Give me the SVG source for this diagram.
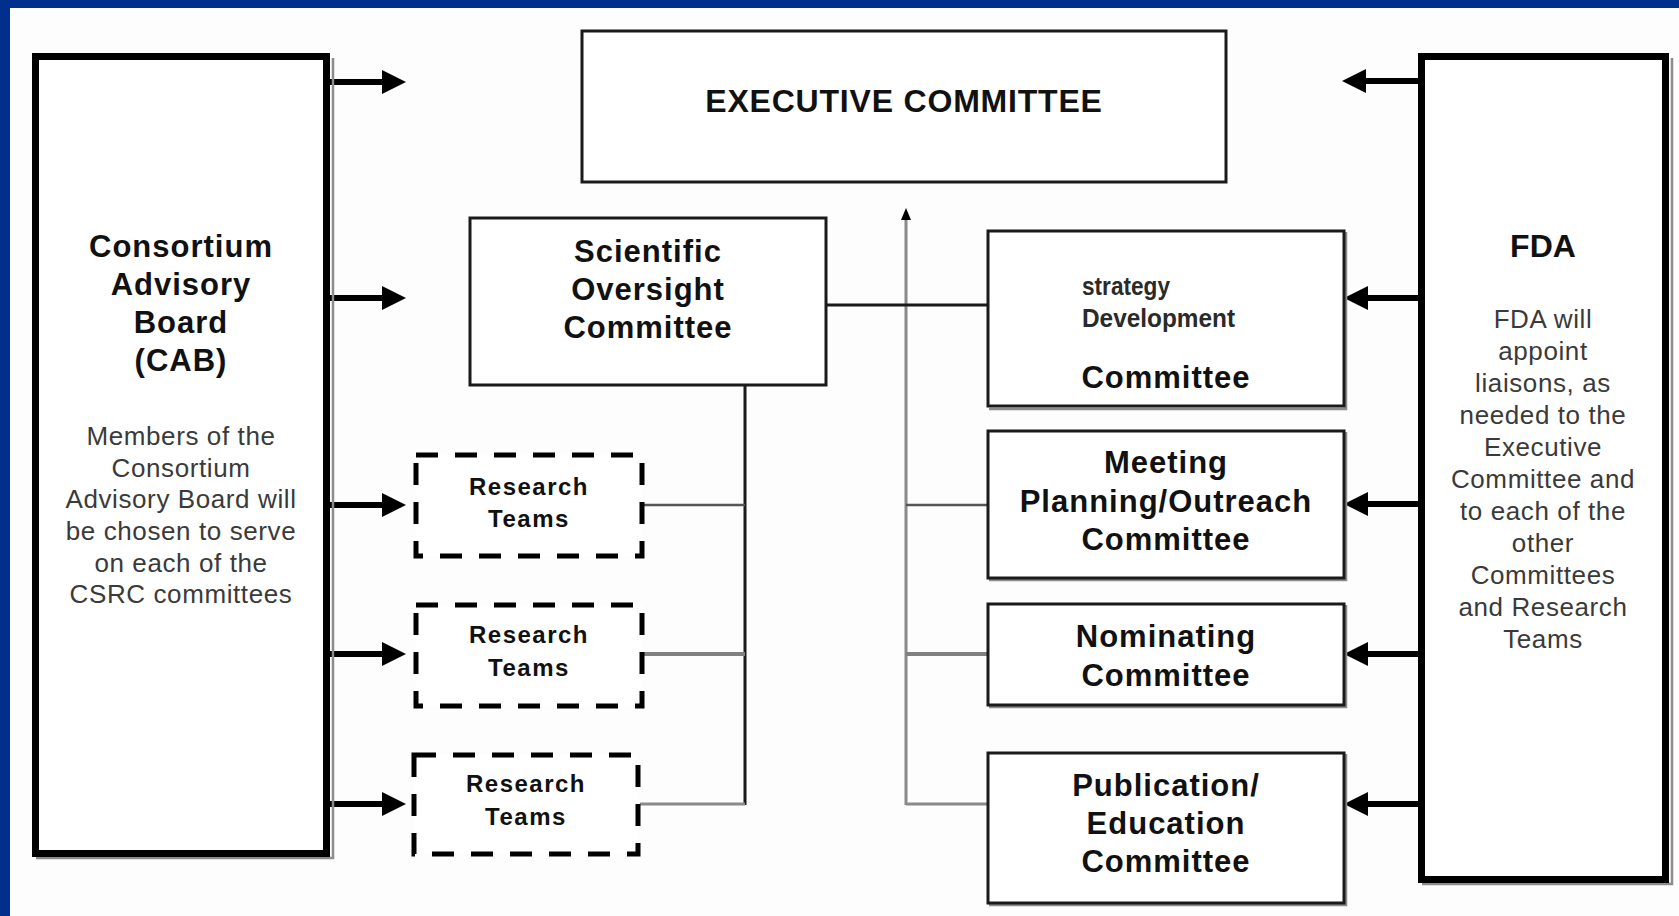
<svg xmlns="http://www.w3.org/2000/svg" width="1679" height="916" viewBox="0 0 1679 916">
  <style>
    .bold { font-family: "Liberation Sans", Arial, sans-serif; font-weight: bold; fill: #111; text-anchor: middle; }
    .title { font-size: 31px; letter-spacing: 1px; }
    .rt { font-size: 24px; letter-spacing: 1.5px; }
    .body { font-family: "Liberation Sans", Arial, sans-serif; font-size: 26px; letter-spacing: 0.6px; fill: #3a3a3a; text-anchor: middle; }
    .box { fill: #ffffff; stroke: #1a1a1a; stroke-width: 3; }
    .shadow { fill: none; stroke: #8c8c8c; stroke-width: 2.5; }
    .big { fill: #ffffff; stroke: #000; stroke-width: 7; }
    .dash { fill: #ffffff; stroke: #000; stroke-width: 5; stroke-dasharray: 22 17; }
    .arrow { stroke: #000; stroke-width: 6; fill: none; }
    .grayline { stroke: #8a8a8a; stroke-width: 3; fill: none; }
    .darkline { stroke: #555; stroke-width: 2.5; fill: none; }
    .thickgray { stroke: #808080; stroke-width: 4; fill: none; }
    .blackline { stroke: #1a1a1a; stroke-width: 3; fill: none; }
    .garbled { font-family: "Liberation Sans", Arial, sans-serif; font-weight: bold; fill: #2a2a2a; font-size: 25px; }
  </style>
  <defs>
    <marker id="head" viewBox="0 -13 24 26" refX="0" refY="0" markerWidth="24" markerHeight="26" markerUnits="userSpaceOnUse" orient="auto">
      <path d="M0,-12 L24,0 L0,12 z" fill="#000"/>
    </marker>
    <marker id="smallhead" viewBox="0 -6 12 12" refX="0" refY="0" markerWidth="12" markerHeight="12" markerUnits="userSpaceOnUse" orient="auto">
      <path d="M0,-5 L12,0 L0,5 z" fill="#000"/>
    </marker>
  </defs>

  <rect x="0" y="0" width="1679" height="916" fill="#fdfdfd"/>
  <rect x="0" y="0" width="1679" height="8" fill="#00308c"/>
  <rect x="0" y="0" width="10" height="916" fill="#00308c"/>

  <g id="connectors">
    <!-- CAB arrows -->
    <line class="arrow" x1="330" y1="82" x2="382" y2="82" marker-end="url(#head)"/>
    <line class="arrow" x1="330" y1="298" x2="382" y2="298" marker-end="url(#head)"/>
    <line class="arrow" x1="330" y1="505" x2="382" y2="505" marker-end="url(#head)"/>
    <line class="arrow" x1="330" y1="654" x2="382" y2="654" marker-end="url(#head)"/>
    <line class="arrow" x1="330" y1="804" x2="382" y2="804" marker-end="url(#head)"/>
    <!-- FDA arrows -->
    <line class="arrow" x1="1418" y1="81" x2="1366" y2="81" marker-end="url(#head)"/>
    <line class="arrow" x1="1418" y1="298" x2="1368" y2="298" marker-end="url(#head)"/>
    <line class="arrow" x1="1418" y1="504" x2="1368" y2="504" marker-end="url(#head)"/>
    <line class="arrow" x1="1418" y1="654" x2="1368" y2="654" marker-end="url(#head)"/>
    <line class="arrow" x1="1418" y1="804" x2="1368" y2="804" marker-end="url(#head)"/>
    <!-- central gray trunk up to Executive Committee -->
    <line class="grayline" x1="906" y1="805" x2="906" y2="220" marker-end="url(#smallhead)"/>
    <line class="darkline" x1="906" y1="505" x2="988" y2="505"/>
    <line class="thickgray" x1="906" y1="654" x2="988" y2="654"/>
    <line class="grayline" x1="906" y1="804" x2="988" y2="804"/>
    <!-- Scientific Oversight to Strategy Development -->
    <line class="blackline" x1="826" y1="305" x2="988" y2="305"/>
    <!-- Scientific Oversight to Research Teams -->
    <line class="blackline" x1="745" y1="385" x2="745" y2="805"/>
    <line class="darkline" x1="643" y1="505" x2="745" y2="505"/>
    <line class="thickgray" x1="643" y1="654" x2="745" y2="654"/>
    <line class="grayline" x1="640" y1="804" x2="745" y2="804"/>
  </g>

  <g id="cab">
    <polyline class="shadow" points="333,58 333,858 36,858"/>
    <rect class="big" x="35.5" y="56.5" width="291" height="797"/>
    <text class="bold title" x="181" y="257">Consortium</text>
    <text class="bold title" x="181" y="295">Advisory</text>
    <text class="bold title" x="181" y="333">Board</text>
    <text class="bold title" x="181" y="371">(CAB)</text>
    <text class="body" x="181" y="445">Members of the</text>
    <text class="body" x="181" y="477">Consortium</text>
    <text class="body" x="181" y="508">Advisory Board will</text>
    <text class="body" x="181" y="540">be chosen to serve</text>
    <text class="body" x="181" y="572">on each of the</text>
    <text class="body" x="181" y="603">CSRC committees</text>
  </g>

  <g id="executive">
    <rect class="box" x="582" y="31" width="644" height="151"/>
    <text class="bold" x="904" y="112" style="font-size:32px;letter-spacing:0.8px">EXECUTIVE COMMITTEE</text>
  </g>

  <g id="scientific">
    <rect class="box" x="470" y="218" width="356" height="167"/>
    <text class="bold title" x="648" y="262">Scientific</text>
    <text class="bold title" x="648" y="300">Oversight</text>
    <text class="bold title" x="648" y="338">Committee</text>
  </g>

  <g id="research1">
    <rect class="dash" x="416" y="455" width="226" height="101"/>
    <text class="bold rt" x="529" y="495">Research</text>
    <text class="bold rt" x="529" y="527">Teams</text>
  </g>
  <g id="research2">
    <rect class="dash" x="416" y="605" width="226" height="101"/>
    <text class="bold rt" x="529" y="643">Research</text>
    <text class="bold rt" x="529" y="676">Teams</text>
  </g>
  <g id="research3">
    <rect class="dash" x="414" y="755" width="224" height="99"/>
    <text class="bold rt" x="526" y="792">Research</text>
    <text class="bold rt" x="526" y="825">Teams</text>
  </g>

  <g id="strategy">
    <polyline class="shadow" points="1346,232 1346,409 989,409"/>
    <rect class="box" x="988" y="231" width="356" height="175"/>
    <text class="garbled" x="1082" y="295" textLength="88" lengthAdjust="spacingAndGlyphs">strategy</text>
    <text class="garbled" x="1082" y="327" textLength="153" lengthAdjust="spacingAndGlyphs">Development</text>
    <text class="bold title" x="1166" y="388">Committee</text>
  </g>

  <g id="meeting">
    <polyline class="shadow" points="1346,432 1346,580 989,580"/>
    <rect class="box" x="988" y="431" width="356" height="147"/>
    <text class="bold title" x="1166" y="473">Meeting</text>
    <text class="bold title" x="1166" y="512">Planning/Outreach</text>
    <text class="bold title" x="1166" y="550">Committee</text>
  </g>

  <g id="nominating">
    <polyline class="shadow" points="1346,605 1346,707 989,707"/>
    <rect class="box" x="988" y="604" width="356" height="101"/>
    <text class="bold title" x="1166" y="647">Nominating</text>
    <text class="bold title" x="1166" y="686">Committee</text>
  </g>

  <g id="publication">
    <polyline class="shadow" points="1346,754 1346,905 989,905"/>
    <rect class="box" x="988" y="753" width="356" height="150"/>
    <text class="bold title" x="1166" y="796">Publication/</text>
    <text class="bold title" x="1166" y="834">Education</text>
    <text class="bold title" x="1166" y="872">Committee</text>
  </g>

  <g id="fda">
    <polyline class="shadow" points="1672,58 1672,884 1422,884"/>
    <rect class="big" x="1421.5" y="56.5" width="244" height="823"/>
    <text class="bold" x="1543" y="257" style="font-size:32px">FDA</text>
    <text class="body" x="1543" y="328">FDA will</text>
    <text class="body" x="1543" y="360">appoint</text>
    <text class="body" x="1543" y="392">liaisons, as</text>
    <text class="body" x="1543" y="424">needed to the</text>
    <text class="body" x="1543" y="456">Executive</text>
    <text class="body" x="1543" y="488">Committee and</text>
    <text class="body" x="1543" y="520">to each of the</text>
    <text class="body" x="1543" y="552">other</text>
    <text class="body" x="1543" y="584">Committees</text>
    <text class="body" x="1543" y="616">and Research</text>
    <text class="body" x="1543" y="648">Teams</text>
  </g>
</svg>
